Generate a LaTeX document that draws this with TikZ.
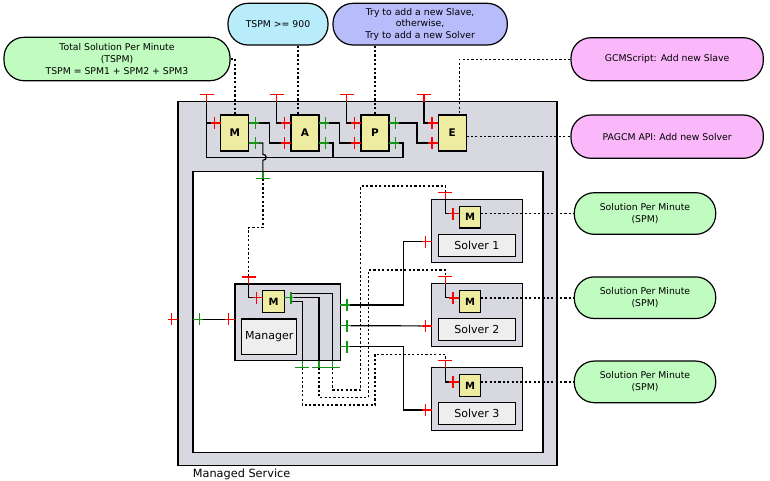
\documentclass[tikz,border=0pt]{standalone}
\usepackage{fontspec}
\setmainfont{DejaVu Sans}
\usetikzlibrary{calc}
\definecolor{cgray}{RGB}{216,216,224}
\definecolor{cyel}{RGB}{238,236,160}
\definecolor{clab}{RGB}{238,238,238}
\definecolor{cgreen}{RGB}{192,252,192}
\definecolor{ccyan}{RGB}{184,236,250}
\definecolor{cviolet}{RGB}{184,188,250}
\definecolor{cpink}{RGB}{250,184,250}
\definecolor{pred}{RGB}{255,0,0}
\definecolor{pgreen}{RGB}{20,150,20}
\tikzset{
 sz/.style 2 args={minimum width=#1, minimum height=#2},
 box/.style={draw=black, line width=1.1pt, inner sep=0pt, outer sep=0pt},
 graybox/.style={box, fill=cgray},
 mbox/.style={box, fill=cyel, font=\fontsize{10.5}{12}\selectfont\bfseries},
 labbox/.style={box, fill=clab, font=\fontsize{11}{13}\selectfont},
 stad/.style={draw=black, line width=1.2pt, rounded corners=20pt, inner sep=0pt, align=center, font=\fontsize{9.3}{11.7}\selectfont},
 wire/.style={draw=black, line width=1.2pt},
 dot/.style={draw=black, line width=1.4pt, dash pattern=on 2.2pt off 2.2pt},
 portline/.style={line width=1.4pt},
 inport/.pic={\draw[pred, portline] (-10,0) -- (0,0) (-6.5,-6) -- (-6.5,6);},
 outport/.pic={\draw[pgreen, portline] (0,0) -- (10,0) (6.5,-6) -- (6.5,6);},
 topport/.pic={\draw[pred, portline] (-7,-7) -- (7,-7) (0,-7) -- (0,0);},
 botport/.pic={\draw[pgreen, portline] (-7,7) -- (7,7) (0,7) -- (0,0);},
}
\begin{document}
\begin{tikzpicture}[x=1pt,y=-1pt]
\useasboundingbox (0,0) rectangle (770,480);
% containers
\node[graybox, sz={379}{364}] (ms) at (367.5,283.7) {};
\node[anchor=base west, inner sep=0pt, font=\fontsize{11.3}{13}\selectfont] (mslabel) at (192.7,477.3) {Managed Service};
\node[box, fill=white, sz={350}{280.8}] (inner) at (368,311.9) {};
% MAPE
\node[mbox, sz={28}{36}] (mM) at (234.85,133) {M};
\node[mbox, sz={28}{36}] (mA) at (305,133) {A};
\node[mbox, sz={28}{36}] (mP) at (375,133) {P};
\node[mbox, sz={28}{36}] (mE) at (452.3,133) {E};
% manager
\node[graybox, sz={105.3}{76.7}] (mg) at (287.65,322.35) {};
\node[mbox, sz={21.6}{21.6}, font=\fontsize{10}{12}\selectfont\bfseries] (mgM) at (273.5,301.5) {M};
\node[labbox, sz={55}{35.3}] (mgL) at (269.2,336.65) {Manager};
% solvers
\foreach \i/\y in {1/230.9,2/315.1,3/399.2}{
 \node[graybox, sz={90.8}{63.2}] (s\i) at (477.1,\y) {};
 \node[mbox, sz={21.4}{21.4}, font=\fontsize{10}{12}\selectfont\bfseries] (sM\i) at ($(s\i.north)+(-7.1,18)$) {M};
 \node[labbox, sz={77.7}{21.7}] (sL\i) at ($(s\i.north)+(-0.2,45.9)$) {Solver \i};
}
% stadiums
\node[stad, fill=cgreen, sz={226}{43.4}] (tspm) at (117,59) {Total Solution Per Minute\\(TSPM)\\TSPM = SPM1 + SPM2 + SPM3};
\node[stad, fill=ccyan, sz={100}{41.7}] (cond) at (278,24.15) {TSPM >= 900};
\node[stad, fill=cviolet, sz={174.3}{41.7}] (plan) at (420.15,24.15) {Try to add a new Slave,\\otherwise,\\Try to add a new Solver};
\node[stad, fill=cpink, sz={192.3}{43}] (gcm) at (667.15,59.2) {GCMScript: Add new Slave};
\node[stad, fill=cpink, sz={192.3}{43.3}] (pagcm) at (667.15,136.65) {PAGCM API: Add new Solver};
\node[stad, fill=cgreen, sz={141.4}{41.6}] (spm1) at (645,213.5) {Solution Per Minute\\(SPM)};
\node[stad, fill=cgreen, sz={141.4}{41.6}] (spm2) at (645,297.7) {Solution Per Minute\\(SPM)};
\node[stad, fill=cgreen, sz={141.4}{41.6}] (spm3) at (645,381.85) {Solution Per Minute\\(SPM)};
% coordinates
\foreach \n in {mM,mA,mP,mE}{
 \coordinate (\n i1) at ($(\n.west)+(0,-10)$);
 \coordinate (\n i2) at ($(\n.west)+(0,10)$);
 \coordinate (\n o1) at ($(\n.east)+(0,-10)$);
 \coordinate (\n o2) at ($(\n.east)+(0,10)$);
 \coordinate (\n t) at ($(\n.west |- ms.north)+(-14.3,0)$);
}
\coordinate (bus) at ($(mM.south)+(0,6.3)$);
\coordinate (jx) at ($(mMo2)+(14,0)$);
\coordinate (aturn) at ($(mAo2)+(14,0)$);
\coordinate (pturn) at ($(mPo2)+(14,0)$);
\coordinate (ta) at ($(mAt)+(-7,0)$);
\coordinate (tp) at ($(mPt)+(-7,0)$);
\coordinate (te) at ($(mEt)+(-7,0)$);
\coordinate (mgt) at ($(mgM.west |- mg.north)+(-14,0)$);
\coordinate (mgMi) at ($(mgM.north west)+(0,7)$);
\coordinate (mgMo) at ($(mgM.north east)+(0,7)$);
\coordinate (mgi) at ($(mg.north west)+(0,35.3)$);
\coordinate (mgo1) at ($(mg.north east)+(0,21)$);
\coordinate (mgo2) at ($(mg.north east)+(0,41.7)$);
\coordinate (mgo3) at ($(mg.north east)+(0,62.7)$);
\coordinate (b1) at ($(mg.south west)+(67.3,0)$);
\coordinate (b2) at ($(mg.south west)+(84,0)$);
\coordinate (b3) at ($(mg.south west)+(97.7,0)$);
\coordinate (c1) at (375,405);
\coordinate (c2) at (368.3,397.3);
\coordinate (c3) at (360.7,390);
\coordinate (xw) at (403.3,0);
\foreach \i in {1,2,3}{
 \coordinate (s\i t) at ($(sM\i.west |- s\i.north)+(-14,0)$);
 \coordinate (sMi\i) at ($(sM\i.north west)+(0,7)$);
 \coordinate (si\i) at ($(s\i.north west)+(0,42.4)$);
}
\coordinate (aq) at ($(mA.north)+(-7,0)$);
\coordinate (eq) at ($(mE.north)+(7,0)$);
% MAPE wires
\draw[wire] (mMt) |- ($(mMi1)+(-10,0)$);
\draw[wire] (mMt) -- (mMt |- bus) -- (pturn |- bus) -- (pturn) -- ($(mPo2)+(10,0)$);
\draw[wire] ($(mAo2)+(10,0)$) -- (aturn) -- (aturn |- bus);
\draw[wire] (mAt) |- ($(mAi1)+(-10,0)$);
\draw[wire] (mPt) |- ($(mPi1)+(-10,0)$);
\draw[wire] (mEt) |- ($(mEi1)+(-10,0)$);
\draw[wire] ($(mMo1)+(10,0)$) -- (ta |- mMo1) -- (ta |- mAi2) -- ($(mAi2)+(-10,0)$);
\draw[wire] ($(mAo1)+(10,0)$) -- (tp |- mAo1) -- (tp |- mPi2) -- ($(mPi2)+(-10,0)$);
\draw[wire] ($(mPo1)+(10,0)$) -- (te |- mPo1) -- (te |- mEi2) -- ($(mEi2)+(-10,0)$);
\draw[wire] ($(mMo2)+(10,0)$) -- (jx) -- ($(jx |- bus)+(0,-3)$) .. controls +(4.5,0) and +(4.5,0) .. ($(jx |- bus)+(0,3)$) -- (jx |- inner.north);
% manager wires
\draw[wire] (mgt) |- ($(mgMi)+(-10,0)$);
\draw[wire] ($(mgMo)+(6.5,-4)$) -| (b3);
\draw[wire] ($(mgMo)+(10,0)$) -| (b2);
\draw[wire] ($(mgMo)+(6.5,4)$) -| (b1);
\draw[wire] ($(mgo1)+(10,0)$) -- (xw |- mgo1) -- (xw |- si1) -- ($(si1)+(-10,0)$);
\draw[wire] ($(mgo2)+(10,0)$) -- ($(si2)+(-10,0)$);
\draw[wire] ($(mgo3)+(10,0)$) -- (xw |- mgo3) -- (xw |- si3) -- ($(si3)+(-10,0)$);
\draw[wire] ($(inner.west |- mgi)+(10,0)$) -- ($(mgi)+(-10,0)$);
\foreach \i in {1,2,3}{
 \draw[wire] (s\i t) |- ($(sMi\i)+(-10,0)$);
}
% dotted links
\draw[dot] (tspm.east) -- (mM.north |- tspm.east) -- (mM.north);
\draw[dot] (cond.south -| aq) -- (aq);
\draw[dot] (plan.south -| mP.north) -- (mP.north);
\draw[dot] (gcm.west) -| (eq);
\draw[dot] (mE.east |- pagcm.west) -- (pagcm.west);
\draw[dot] ($(jx |- inner.north)+(0,7)$) -- ++(0,49) -| ($(mgt)+(0,-7)$);
\draw[dot] ($(b1)+(0,7)$) |- (c1) |- ($(s3t)+(0,-13.4)$) -- ($(s3t)+(0,-7)$);
\draw[dot] ($(b2)+(0,7)$) |- (c2) |- ($(s2t)+(0,-13.4)$) -- ($(s2t)+(0,-7)$);
\draw[dot] ($(b3)+(0,7)$) |- (c3) |- ($(s1t)+(0,-13.4)$) -- ($(s1t)+(0,-7)$);
\foreach \i in {1,2,3}{
 \draw[dot] (sM\i.east |- sMi\i) -- (spm\i.west |- sMi\i);
}
% ports
\foreach \p in {mMt,mAt,mPt,mEt,mgt,s1t,s2t,s3t}{ \pic at (\p) {topport}; }
\foreach \p in {mMi1,mAi1,mAi2,mPi1,mPi2,mEi1,mEi2,mgMi,sMi1,sMi2,sMi3,mgi,si1,si2,si3}{ \pic at (\p) {inport}; }
\pic at (ms.west |- mgi) {inport};
\foreach \p in {mMo1,mMo2,mAo1,mAo2,mPo1,mPo2,mgMo,mgo1,mgo2,mgo3}{ \pic at (\p) {outport}; }
\pic at (inner.west |- mgi) {outport};
\pic at (jx |- inner.north) {botport};
\foreach \p in {b1,b2,b3}{ \pic at (\p) {botport}; }
\end{tikzpicture}
\end{document}
